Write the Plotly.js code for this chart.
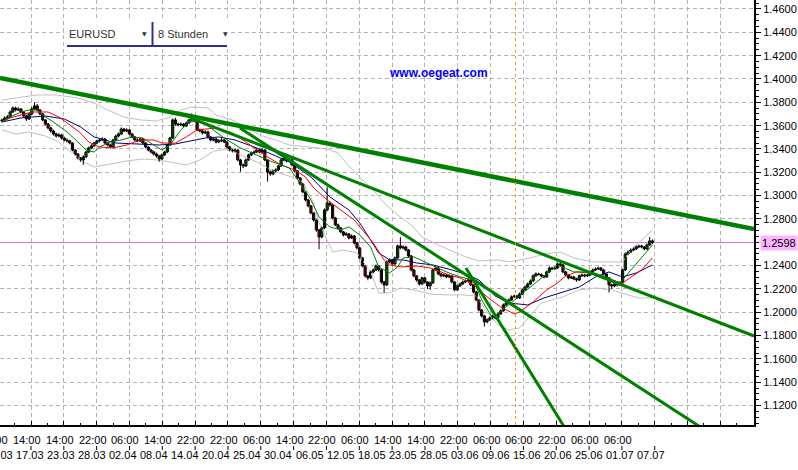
<!DOCTYPE html>
<html><head><meta charset="utf-8">
<script src="https://cdn.plot.ly/plotly-3.0.1.min.js"></script>
<style>html,body{margin:0;padding:0;background:#fff;}#chart{width:798px;height:470px;}</style>
</head><body><div id="chart"></div>
<script>
// ---- EURUSD 8h bars ----
const openP = [
1.3640,1.3649,1.3666,1.3674,1.3717,1.3751,1.3734,1.3743,1.3717,1.3683,
1.3657,1.3700,1.3743,1.3769,1.3734,1.3700,1.3649,1.3614,1.3580,1.3554,
1.3529,1.3511,1.3520,1.3494,1.3477,1.3469,1.3451,1.3391,1.3357,1.3323,
1.3306,1.3332,1.3374,1.3409,1.3426,1.3451,1.3469,1.3477,1.3486,1.3451,
1.3434,1.3417,1.3477,1.3511,1.3529,1.3571,1.3554,1.3563,1.3529,1.3503,
1.3477,1.3469,1.3486,1.3451,1.3417,1.3391,1.3374,1.3357,1.3340,1.3314,
1.3349,1.3374,1.3434,1.3494,1.3649,1.3614,1.3606,1.3614,1.3597,1.3623,
1.3649,1.3657,1.3640,1.3563,1.3554,1.3537,1.3546,1.3503,1.3477,1.3486,
1.3460,1.3469,1.3477,1.3460,1.3417,1.3391,1.3383,1.3391,1.3306,1.3263,
1.3254,1.3306,1.3349,1.3366,1.3374,1.3391,1.3374,1.3391,1.3306,1.3203,
1.3186,1.3212,1.3220,1.3254,1.3306,1.3323,1.3297,1.3314,1.3263,1.3212,
1.3152,1.3100,1.3032,1.2963,1.2912,1.2852,1.2791,1.2706,1.2646,1.2723,
1.2877,1.2937,1.2920,1.2809,1.2749,1.2723,1.2689,1.2663,1.2672,1.2637,
1.2654,1.2594,1.2552,1.2466,1.2397,1.2312,1.2295,1.2346,1.2363,1.2397,
1.2363,1.2260,1.2235,1.2432,1.2449,1.2415,1.2466,1.2569,1.2552,1.2560,
1.2534,1.2483,1.2363,1.2312,1.2277,1.2243,1.2295,1.2260,1.2226,1.2252,
1.2363,1.2380,1.2329,1.2312,1.2320,1.2303,1.2312,1.2260,1.2192,1.2226,
1.2243,1.2260,1.2269,1.2277,1.2235,1.2175,1.2106,1.2020,1.1969,1.1918,
1.1935,1.1952,1.1969,1.1952,1.1986,1.2012,1.2063,1.2080,1.2106,1.2132,
1.2140,1.2123,1.2157,1.2192,1.2217,1.2243,1.2269,1.2312,1.2329,1.2322,
1.2312,1.2303,1.2346,1.2380,1.2372,1.2380,1.2415,1.2406,1.2346,1.2320,
1.2295,1.2303,1.2286,1.2277,1.2312,1.2320,1.2312,1.2320,1.2346,1.2363,
1.2372,1.2380,1.2363,1.2329,1.2295,1.2235,1.2226,1.2243,1.2235,1.2252,
1.2363,1.2500,1.2517,1.2534,1.2543,1.2560,1.2569,1.2560,1.2543,1.2577,
1.2612];
const highP = [
1.3660,1.3680,1.3690,1.3730,1.3765,1.3762,1.3758,1.3752,1.3725,1.3695,
1.3712,1.3760,1.3800,1.3785,1.3742,1.3708,1.3655,1.3622,1.3592,1.3565,
1.3540,1.3535,1.3530,1.3505,1.3490,1.3478,1.3458,1.3400,1.3365,1.3330,
1.3345,1.3385,1.3420,1.3440,1.3462,1.3480,1.3492,1.3500,1.3495,1.3462,
1.3445,1.3488,1.3522,1.3540,1.3585,1.3580,1.3578,1.3570,1.3538,1.3512,
1.3490,1.3498,1.3495,1.3460,1.3425,1.3400,1.3385,1.3368,1.3350,1.3360,
1.3385,1.3445,1.3505,1.3662,1.3668,1.3625,1.3628,1.3622,1.3635,1.3660,
1.3705,1.3672,1.3648,1.3575,1.3565,1.3560,1.3555,1.3512,1.3500,1.3495,
1.3485,1.3492,1.3488,1.3468,1.3425,1.3402,1.3405,1.3398,1.3315,1.3275,
1.3318,1.3360,1.3378,1.3388,1.3405,1.3400,1.3405,1.3398,1.3312,1.3215,
1.3225,1.3235,1.3265,1.3318,1.3335,1.3330,1.3328,1.3322,1.3270,1.3220,
1.3160,1.3108,1.3040,1.2972,1.2920,1.2860,1.2798,1.2715,1.2735,1.2890,
1.3075,1.2950,1.2928,1.2818,1.2760,1.2732,1.2698,1.2688,1.2680,1.2668,
1.2662,1.2602,1.2560,1.2475,1.2405,1.2320,1.2358,1.2375,1.2410,1.2405,
1.2370,1.2270,1.2445,1.2462,1.2458,1.2478,1.2580,1.2645,1.2575,1.2570,
1.2542,1.2490,1.2372,1.2320,1.2285,1.2305,1.2302,1.2268,1.2265,1.2375,
1.2395,1.2388,1.2338,1.2332,1.2328,1.2325,1.2318,1.2268,1.2238,1.2255,
1.2272,1.2282,1.2290,1.2285,1.2242,1.2182,1.2112,1.2028,1.1975,1.1948,
1.1965,1.1980,1.1978,1.1998,1.2025,1.2075,1.2092,1.2118,1.2145,1.2152,
1.2148,1.2170,1.2205,1.2230,1.2255,1.2282,1.2325,1.2342,1.2340,1.2335,
1.2320,1.2358,1.2392,1.2390,1.2395,1.2428,1.2445,1.2412,1.2355,1.2328,
1.2315,1.2312,1.2295,1.2325,1.2332,1.2330,1.2332,1.2358,1.2375,1.2385,
1.2392,1.2388,1.2370,1.2335,1.2302,1.2245,1.2255,1.2252,1.2265,1.2375,
1.2512,1.2530,1.2548,1.2555,1.2572,1.2580,1.2578,1.2568,1.2590,1.2645,
1.2625];
const lowP = [
1.3628,1.3640,1.3655,1.3668,1.3710,1.3722,1.3725,1.3705,1.3672,1.3640,
1.3650,1.3692,1.3735,1.3722,1.3690,1.3638,1.3602,1.3568,1.3540,1.3515,
1.3498,1.3500,1.3480,1.3465,1.3455,1.3440,1.3380,1.3345,1.3310,1.3290,
1.3263,1.3325,1.3365,1.3398,1.3418,1.3440,1.3458,1.3468,1.3440,1.3422,
1.3405,1.3410,1.3470,1.3500,1.3520,1.3545,1.3545,1.3518,1.3492,1.3465,
1.3458,1.3460,1.3440,1.3405,1.3380,1.3362,1.3345,1.3325,1.3290,1.3305,
1.3340,1.3365,1.3425,1.3488,1.3600,1.3595,1.3596,1.3585,1.3588,1.3615,
1.3640,1.3630,1.3552,1.3542,1.3525,1.3528,1.3492,1.3465,1.3466,1.3448,
1.3450,1.3458,1.3450,1.3405,1.3380,1.3370,1.3372,1.3295,1.3205,1.3235,
1.3245,1.3298,1.3340,1.3355,1.3365,1.3362,1.3365,1.3295,1.3120,1.3170,
1.3175,1.3200,1.3210,1.3245,1.3295,1.3285,1.3288,1.3252,1.3200,1.3140,
1.3088,1.3020,1.2950,1.2900,1.2840,1.2778,1.2690,1.2540,1.2635,1.2715,
1.2865,1.2905,1.2795,1.2738,1.2710,1.2678,1.2650,1.2655,1.2625,1.2628,
1.2582,1.2540,1.2455,1.2385,1.2298,1.2275,1.2285,1.2335,1.2355,1.2350,
1.2245,1.2168,1.2225,1.2420,1.2402,1.2405,1.2458,1.2540,1.2540,1.2522,
1.2470,1.2350,1.2300,1.2262,1.2230,1.2235,1.2248,1.2200,1.2192,1.2245,
1.2355,1.2318,1.2300,1.2302,1.2292,1.2295,1.2248,1.2180,1.2185,1.2218,
1.2235,1.2250,1.2260,1.2225,1.2162,1.2095,1.2008,1.1955,1.1878,1.1905,
1.1925,1.1940,1.1940,1.1945,1.1978,1.2005,1.2055,1.2072,1.2098,1.2125,
1.2112,1.2115,1.2150,1.2185,1.2210,1.2235,1.2262,1.2305,1.2318,1.2300,
1.2290,1.2295,1.2338,1.2362,1.2365,1.2372,1.2395,1.2335,1.2308,1.2282,
1.2285,1.2275,1.2262,1.2270,1.2305,1.2300,1.2302,1.2312,1.2338,1.2355,
1.2365,1.2352,1.2318,1.2282,1.2170,1.2200,1.2215,1.2222,1.2225,1.2245,
1.2355,1.2490,1.2508,1.2525,1.2535,1.2550,1.2548,1.2532,1.2535,1.2570,
1.2585];
const closeP = [
1.3649,1.3666,1.3674,1.3717,1.3751,1.3734,1.3743,1.3717,1.3683,1.3657,
1.3700,1.3743,1.3769,1.3734,1.3700,1.3649,1.3614,1.3580,1.3554,1.3529,
1.3511,1.3520,1.3494,1.3477,1.3469,1.3451,1.3391,1.3357,1.3323,1.3306,
1.3332,1.3374,1.3409,1.3426,1.3451,1.3469,1.3477,1.3486,1.3451,1.3434,
1.3417,1.3477,1.3511,1.3529,1.3571,1.3554,1.3563,1.3529,1.3503,1.3477,
1.3469,1.3486,1.3451,1.3417,1.3391,1.3374,1.3357,1.3340,1.3314,1.3349,
1.3374,1.3434,1.3494,1.3649,1.3614,1.3606,1.3614,1.3597,1.3623,1.3649,
1.3657,1.3640,1.3563,1.3554,1.3537,1.3546,1.3503,1.3477,1.3486,1.3460,
1.3469,1.3477,1.3460,1.3417,1.3391,1.3383,1.3391,1.3306,1.3263,1.3254,
1.3306,1.3349,1.3366,1.3374,1.3391,1.3374,1.3391,1.3306,1.3203,1.3186,
1.3212,1.3220,1.3254,1.3306,1.3323,1.3297,1.3314,1.3263,1.3212,1.3152,
1.3100,1.3032,1.2963,1.2912,1.2852,1.2791,1.2706,1.2646,1.2723,1.2877,
1.2937,1.2920,1.2809,1.2749,1.2723,1.2689,1.2663,1.2672,1.2637,1.2654,
1.2594,1.2552,1.2466,1.2397,1.2312,1.2295,1.2346,1.2363,1.2397,1.2363,
1.2260,1.2235,1.2432,1.2449,1.2415,1.2466,1.2569,1.2552,1.2560,1.2534,
1.2483,1.2363,1.2312,1.2277,1.2243,1.2295,1.2260,1.2226,1.2252,1.2363,
1.2380,1.2329,1.2312,1.2320,1.2303,1.2312,1.2260,1.2192,1.2226,1.2243,
1.2260,1.2269,1.2277,1.2235,1.2175,1.2106,1.2020,1.1969,1.1918,1.1935,
1.1952,1.1969,1.1952,1.1986,1.2012,1.2063,1.2080,1.2106,1.2132,1.2140,
1.2123,1.2157,1.2192,1.2217,1.2243,1.2269,1.2312,1.2329,1.2322,1.2312,
1.2303,1.2346,1.2380,1.2372,1.2380,1.2415,1.2406,1.2346,1.2320,1.2295,
1.2303,1.2286,1.2277,1.2312,1.2320,1.2312,1.2320,1.2346,1.2363,1.2372,
1.2380,1.2363,1.2329,1.2295,1.2235,1.2226,1.2243,1.2235,1.2252,1.2363,
1.2500,1.2517,1.2534,1.2543,1.2560,1.2569,1.2560,1.2543,1.2577,1.2612,
1.2598];

// indicator lines (bar index, price)
const slowMaBar = [0,7,16,23,29,34,42,51,58,64,69,75,80,86,92,96,101,106,114,121,128,132,136,139,143,148,153,159,166,172,176,182,187,194,200,207,213,219,224,229,234,240];
const slowMaVal = [1.3631,1.3666,1.3683,1.3657,1.3589,1.3503,1.3451,1.3443,1.3434,1.3443,1.3469,1.3494,1.3503,1.3477,1.3426,1.3391,1.3340,1.3289,1.3160,1.2989,1.2877,1.2766,1.2620,1.2509,1.2449,1.2449,1.2423,1.2406,1.2363,1.2320,1.2277,1.2140,1.2080,1.2063,1.2123,1.2174,1.2217,1.2303,1.2346,1.2303,1.2337,1.2406];
const midMaBar = [0,3,7,11,17,21,25,29,32,36,41,46,51,56,59,64,68,72,79,85,90,94,98,103,108,112,115,120,125,130,133,137,141,143,147,153,158,162,165,169,174,179,184,189,191,196,201,205,208,212,217,222,226,229,236,240];
const midMaVal = [1.3631,1.3666,1.3691,1.3717,1.3717,1.3674,1.3606,1.3537,1.3460,1.3417,1.3409,1.3434,1.3477,1.3477,1.3451,1.3451,1.3503,1.3563,1.3580,1.3537,1.3460,1.3391,1.3332,1.3263,1.3220,1.3160,1.3066,1.2963,1.2877,1.2791,1.2706,1.2594,1.2449,1.2406,1.2389,1.2397,1.2380,1.2346,1.2320,1.2295,1.2235,1.2132,1.2046,1.1986,1.2003,1.2089,1.2192,1.2252,1.2312,1.2346,1.2337,1.2303,1.2269,1.2252,1.2363,1.2466];
const fastBar = [0,3,7,10,13,15,19,24,28,31,34,36,40,44,48,52,56,59,62,66,69,73,77,82,88,92,95,99,103,106,110,114,117,121,125,128,132,136,139,143,146,148,152,157,161,164,169,174,177,181,205,211,217,222,228,240];
const fastVal = [1.3631,1.3674,1.3717,1.3734,1.3734,1.3691,1.3631,1.3546,1.3460,1.3391,1.3374,1.3417,1.3460,1.3477,1.3503,1.3494,1.3434,1.3391,1.3434,1.3563,1.3631,1.3640,1.3580,1.3494,1.3409,1.3366,1.3340,1.3297,1.3263,1.3237,1.3109,1.2963,1.2817,1.2732,1.2706,1.2732,1.2663,1.2560,1.2389,1.2337,1.2389,1.2466,1.2475,1.2423,1.2380,1.2346,1.2303,1.2277,1.2106,1.1952,1.2406,1.2346,1.2346,1.2312,1.2252,1.2577];
const upperBandBar = [0,7,13,20,28,34,39,45,51,57,62,66,70,76,79,85,90,95,101,106,114,120,124,127,132,137,141,146,151,155,161,165,171,176,183,187,195,200,206,211,218,224,229,232,236,240];
const upperBandVal = [1.3820,1.3846,1.3863,1.3863,1.3837,1.3794,1.3734,1.3674,1.3649,1.3640,1.3674,1.3734,1.3760,1.3751,1.3691,1.3649,1.3589,1.3520,1.3477,1.3434,1.3417,1.3400,1.3366,1.3280,1.3160,1.3049,1.2937,1.2834,1.2749,1.2646,1.2577,1.2534,1.2475,1.2440,1.2449,1.2432,1.2466,1.2500,1.2517,1.2466,1.2432,1.2432,1.2432,1.2534,1.2620,1.2706];
const lowerBandBar = [0,5,10,16,21,26,30,34,40,46,52,57,62,68,73,78,83,88,94,101,107,111,115,117,120,122,126,131,136,139,143,147,152,158,164,170,175,179,183,187,191,195,199,207,213,219,225,231,235,240];
const lowerBandVal = [1.3563,1.3529,1.3546,1.3511,1.3460,1.3366,1.3289,1.3246,1.3272,1.3297,1.3314,1.3306,1.3289,1.3263,1.3306,1.3380,1.3400,1.3350,1.3289,1.3203,1.3160,1.3117,1.2937,1.2766,1.2620,1.2517,1.2534,1.2509,1.2346,1.2166,1.2166,1.2209,1.2192,1.2157,1.2149,1.2149,1.2140,1.2003,1.1892,1.1849,1.1866,1.1977,1.2080,1.2132,1.2192,1.2209,1.2192,1.2149,1.2123,1.2123];

// trend lines: start/end (bar index, price)
const trendStartBar = [-0.74, 69.4, 87.8, 171.2];
const trendStartVal = [1.4009, 1.3666, 1.3580, 1.2380];
const trendEndBar   = [277.5, 277.5, 257.6, 207.7];
const trendEndVal   = [1.2714, 1.1797, 1.1018, 1.1009];
const separatorBar = 189.5;

// axis labels
const priceTicks = [1.12,1.14,1.16,1.18,1.20,1.22,1.24,1.28,1.30,1.32,1.34,1.36,1.38,1.40,1.42,1.44,1.46];
const timeLabels = ["14:00","14:00","14:00","22:00","06:00","14:00","22:00","22:00","06:00","14:00","22:00","06:00","14:00","14:00","22:00","06:00","06:00","22:00","06:00","06:00"];
const dateLabels = ["11.03","17.03","23.03","28.03","02.04","08.04","14.04","20.04","25.04","30.04","06.05","12.05","18.05","23.05","28.05","03.06","09.06","15.06","20.06","25.06","01.07","07.07"];

// ---------- drawing ----------
const bars = closeP.map((_, i) => i);
const lastPrice = closeP[closeP.length - 1];
const PW = 754, PH = 425;               // plot area in px
const PX = p => p / PW;                 // px -> paper x
const PY = p => (PH - p) / PH;          // px -> paper y
const FONT = 'Liberation Sans, Arial, sans-serif';

const traces = [];
const ln = (x, y, color, width) => ({type:'scatter', mode:'lines', x, y, line:{color, width}, hoverinfo:'skip', showlegend:false});
traces.push(ln(upperBandBar, upperBandVal, '#c0c0c0', 1));
traces.push(ln(lowerBandBar, lowerBandVal, '#c0c0c0', 1));

// candle wicks (one polyline with gaps)
const wickX = [], wickY = [];
bars.forEach(i => { wickX.push(i, i, null); wickY.push(lowP[i], highP[i], null); });
traces.push({type:'scatter', mode:'lines', x:wickX, y:wickY, line:{color:'#000', width:1}, hoverinfo:'skip', showlegend:false, connectgaps:false});
// candle bodies
function bodies(up) {
  const idx = bars.filter(i => up ? closeP[i] >= openP[i] : closeP[i] < openP[i]);
  return {type:'bar', x:idx, base:idx.map(i => Math.min(openP[i], closeP[i])),
    y:idx.map(i => Math.max(Math.abs(closeP[i] - openP[i]), 0.0002)), width:0.8,
    marker:{color: up ? '#00ff00' : '#ff0000', line:{color:'#000', width:1}},
    hoverinfo:'skip', showlegend:false};
}
traces.push(bodies(true));
traces.push(bodies(false));

traces.push(ln(slowMaBar, slowMaVal, '#000080', 1));
traces.push(ln(midMaBar, midMaVal, '#ff0000', 1));
traces.push(ln(fastBar, fastVal, '#008000', 1));
const trendWidths = [4.5, 3, 3, 3];
trendStartBar.forEach((b, k) => traces.push(ln([b, trendEndBar[k]], [trendStartVal[k], trendEndVal[k]], '#008000', trendWidths[k])));

const gridStep = 12.114, gridStart = 10.70, barPx = 2.71;
const gridPx = k => 2 + barPx * (gridStart + gridStep * k);

const shapes = [
  {type:'line', xref:'paper', x0:0, x1:1, yref:'y', y0:lastPrice, y1:lastPrice, line:{color:'#e070e0', width:1}, layer:'between'},
  {type:'line', xref:'x', x0:separatorBar, x1:separatorBar, yref:'paper', y0:0, y1:1, line:{color:'#ff8c00', width:1, dash:'3px,3px'}, layer:'above'},
  {type:'rect', xref:'paper', yref:'paper', x0:PX(64), x1:PX(231), y0:PY(48), y1:PY(19), fillcolor:'#ffffff', line:{width:0}, layer:'above'},
  {type:'line', xref:'paper', yref:'paper', x0:PX(67), x1:PX(227), y0:PY(46), y1:PY(46), line:{color:'#30308c', width:2}, layer:'above'},
  {type:'line', xref:'paper', yref:'paper', x0:PX(152.5), x1:PX(152.5), y0:PY(22), y1:PY(46), line:{color:'#30308c', width:2}, layer:'above'}
];
for (let k = 0; k < 20; k++) {
  const x = PX(gridPx(k));
  shapes.push({type:'line', xref:'paper', yref:'paper', x0:x, x1:x, y0:PY(446), y1:PY(450), line:{color:'#000', width:1}});
}

const annotations = [];
timeLabels.forEach((t, k) => annotations.push({xref:'paper', yref:'paper', x:PX(gridPx(k - 1) - 4), y:PY(440), text:t, showarrow:false, xanchor:'center', yanchor:'middle', font:{family:FONT, size:11, color:'#000'}}));
dateLabels.forEach((t, m) => annotations.push({xref:'paper', yref:'paper', x:PX(-1 + 31.05 * m), y:PY(455), text:t, showarrow:false, xanchor:'center', yanchor:'middle', font:{family:FONT, size:11, color:'#000'}}));
annotations.push({xref:'paper', yref:'y', x:1, y:lastPrice, xanchor:'left', yanchor:'middle', xshift:6, text:lastPrice.toFixed(4), showarrow:false, bgcolor:'#ffb4ff', borderpad:1, font:{family:FONT, size:11, color:'#000'}});
annotations.push({xref:'paper', yref:'paper', x:PX(67), y:PY(34), xanchor:'left', yanchor:'middle', text:'EURUSD', showarrow:false, font:{family:FONT, size:11, color:'#333'}});
annotations.push({xref:'paper', yref:'paper', x:PX(156), y:PY(34), xanchor:'left', yanchor:'middle', text:'8 Stunden', showarrow:false, font:{family:FONT, size:11, color:'#333'}});
annotations.push({xref:'paper', yref:'paper', x:PX(144), y:PY(34), xanchor:'center', yanchor:'middle', text:'▼', showarrow:false, font:{family:'DejaVu Sans', size:6, color:'#333'}});
annotations.push({xref:'paper', yref:'paper', x:PX(225), y:PY(34), xanchor:'center', yanchor:'middle', text:'▼', showarrow:false, font:{family:'DejaVu Sans', size:6, color:'#333'}});
annotations.push({xref:'paper', yref:'paper', x:PX(438), y:PY(73), xanchor:'center', yanchor:'middle', text:'<b>www.oegeat.com</b>', showarrow:false, font:{family:FONT, size:12, color:'#0000ff'}});

const gridColor = '#b4b4b4', gridDash = '4px,3px';
const layout = {
  width:798, height:470, margin:{l:0, r:44, t:0, b:45, pad:0},
  paper_bgcolor:'#ffffff', plot_bgcolor:'#ffffff', showlegend:false, barmode:'overlay',
  font:{family:FONT, size:11, color:'#000'},
  xaxis:{type:'linear', range:[-0.738, 277.49], tickmode:'linear', tick0:gridStart, dtick:gridStep,
    showticklabels:false, ticks:'inside', ticklen:4, tickcolor:'#000',
    showgrid:true, gridcolor:gridColor, griddash:gridDash, gridwidth:1, zeroline:false,
    showline:true, linecolor:'#000', linewidth:2, mirror:true, fixedrange:true,
    minor:{tickmode:'linear', tick0:gridStart, dtick:gridStep/2, ticks:'inside', ticklen:2, tickcolor:'#000', showgrid:false}},
  yaxis:{side:'right', range:[1.1034, 1.4677], tickmode:'array', tickvals:priceTicks, ticktext:priceTicks.map(v => v.toFixed(4)),
    ticks:'outside', ticklen:5, tickcolor:'#000', tickfont:{family:FONT, size:11, color:'#000'},
    showgrid:true, gridcolor:gridColor, griddash:gridDash, gridwidth:1, zeroline:false,
    showline:true, linecolor:'#000', linewidth:2, mirror:true, fixedrange:true,
    minor:{tickmode:'linear', tick0:1.12, dtick:0.005, ticks:'outside', ticklen:3, tickcolor:'#000', showgrid:false}},
  shapes, annotations
};
Plotly.newPlot('chart', traces, layout, {staticPlot:true, displayModeBar:false});
</script></body></html>
